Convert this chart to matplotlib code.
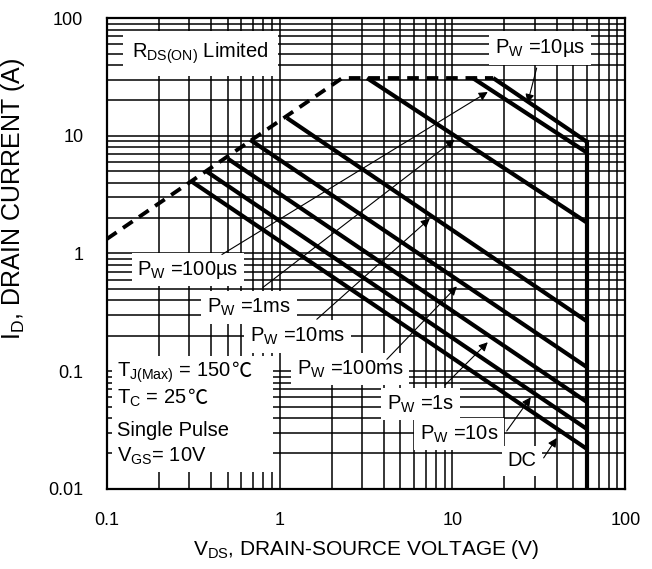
import numpy as np
import matplotlib
matplotlib.use('Agg')
import matplotlib.pyplot as plt
from matplotlib.patches import Rectangle
from matplotlib.ticker import FixedLocator, FuncFormatter

plt.rcParams['font.family'] = ['Liberation Sans', 'DejaVu Sans']
plt.rcParams['mathtext.fontset'] = 'custom'
plt.rcParams['mathtext.rm'] = 'Liberation Sans'
plt.rcParams['mathtext.it'] = 'Liberation Sans'

# RDS(on) / current limit (dashed)
limit_v = [0.1, 2.3, 17.2]
limit_i = [1.33, 31, 31]

# pulse lines: start point on the limit, end current at the BVdss edge
pulse_names = ['10µs', '100µs', '1ms', '10ms', '100ms', '1s', '10s', 'DC']
v_start = [17.2, 13.1, 3.2, 1.10, 0.674, 0.502, 0.38, 0.311]
i_start = [31, 31, 31, 14.2, 9.25, 6.38, 4.95, 4.07]
i_end = [8.9, 7.2, 1.83, 0.265, 0.108, 0.0546, 0.0322, 0.0218]
v_max = 60

# annotation arrows (tail -> tip) in data units
arrow_tail = [(30.7, 37.7), (0.463, 0.98), (0.80, 0.515), (1.64, 0.276),
              (4.17, 0.126), (9.03, 0.076), (20.6, 0.031), (33.7, 0.0183)]
arrow_tip = [(27.2, 19.0), (16.0, 23.6), (10.3, 9.3), (7.39, 1.98),
             (10.6, 0.525), (16.0, 0.176), (28.4, 0.060), (40.1, 0.027)]
label_pos = [(17.6, 55.7), (0.15, 0.73), (0.38, 0.348), (0.674, 0.198),
             (1.26, 0.104), (4.17, 0.0525), (6.47, 0.0292), (20.9, 0.0173)]

fig = plt.figure(figsize=(6.52, 5.69), dpi=100)
ax = fig.add_axes([0.164, 0.141, 0.795, 0.827])
ax.set_xscale('log')
ax.set_yscale('log')
ax.set_xlim(0.1, 100)
ax.set_ylim(0.01, 100)

ax.set_axisbelow(True)
ax.grid(True, which='both', color='black', lw=1.1)
ax.tick_params(which='both', length=0, labelsize=13, pad=17)
ax.xaxis.set_major_locator(FixedLocator([0.1, 1, 10, 100]))
ax.yaxis.set_major_locator(FixedLocator([0.01, 0.1, 1, 10, 100]))
ax.xaxis.set_major_formatter(FuncFormatter(lambda v, p: '%g' % v))
ax.yaxis.set_major_formatter(FuncFormatter(lambda v, p: '%g' % v))
for s in ax.spines.values():
    s.set_linewidth(1.6)

ax.plot(limit_v, limit_i, color='black', lw=2.8, ls=(0, (3, 2)), zorder=4)
for k in range(len(pulse_names)):
    ax.plot([v_start[k], v_max], [i_start[k], i_end[k]], color='black', lw=3, zorder=4,
            solid_capstyle='butt')
ax.plot([v_max, v_max], [i_end[0], 0.01], color='black', lw=3, zorder=4)

box = dict(facecolor='white', edgecolor='none', pad=4)
for k in range(len(pulse_names)):
    if pulse_names[k] == 'DC':
        txt = 'DC'
    else:
        txt = r'$\mathregular{P_W}$ =' + pulse_names[k]
    ax.text(label_pos[k][0], label_pos[k][1], txt, fontsize=14.5, ha='left', va='center',
            bbox=box, zorder=3)
    ax.annotate('', xy=arrow_tip[k], xytext=arrow_tail[k], zorder=5,
                arrowprops=dict(arrowstyle='-|>', lw=0.8, color='black',
                                mutation_scale=13, shrinkA=0, shrinkB=0))

ax.text(0.14, 50, r'$\mathregular{R_{DS(ON)}}$ Limited', fontsize=14.5, ha='left', va='center',
        bbox=dict(facecolor='white', edgecolor='none', pad=7), zorder=3)

# test conditions block
ax.add_patch(Rectangle((0.1075, 0.0139), 0.914 - 0.1075, 0.134 - 0.0139,
                       facecolor='white', edgecolor='none', zorder=3))
cond_x = 0.115
t1 = ax.text(cond_x, 0.0889, r'$\mathregular{T_{J(Max)}}$ = 150', fontsize=14.5,
             va='baseline', zorder=4)
ax.annotate('℃', xy=(1, 0.0889), xycoords=(t1, 'data'), fontsize=14.5, va='baseline',
            family=['Noto Sans CJK SC'], zorder=4)
t2 = ax.text(cond_x, 0.0525, r'$\mathregular{T_C}$ = 25', fontsize=14.5, va='baseline', zorder=4)
ax.annotate('℃', xy=(1, 0.0525), xycoords=(t2, 'data'), fontsize=14.5, va='baseline',
            family=['Noto Sans CJK SC'], zorder=4)
ax.text(cond_x, 0.0281, 'Single Pulse', fontsize=14.5, va='baseline', zorder=4)
ax.text(cond_x, 0.0169, r'$\mathregular{V_{GS}}$= 10V', fontsize=14.5, va='baseline', zorder=4)

ax.set_xlabel(r'$\mathregular{V_{DS}}$, DRAIN-SOURCE VOLTAGE (V)', fontsize=15, labelpad=6)
ax.set_ylabel(r'$\mathregular{I_D}$, DRAIN CURRENT (A)', fontsize=18)
ax.yaxis.set_label_coords(-0.154, 0.617)

fig.savefig('out.png', dpi=100, facecolor='white')
